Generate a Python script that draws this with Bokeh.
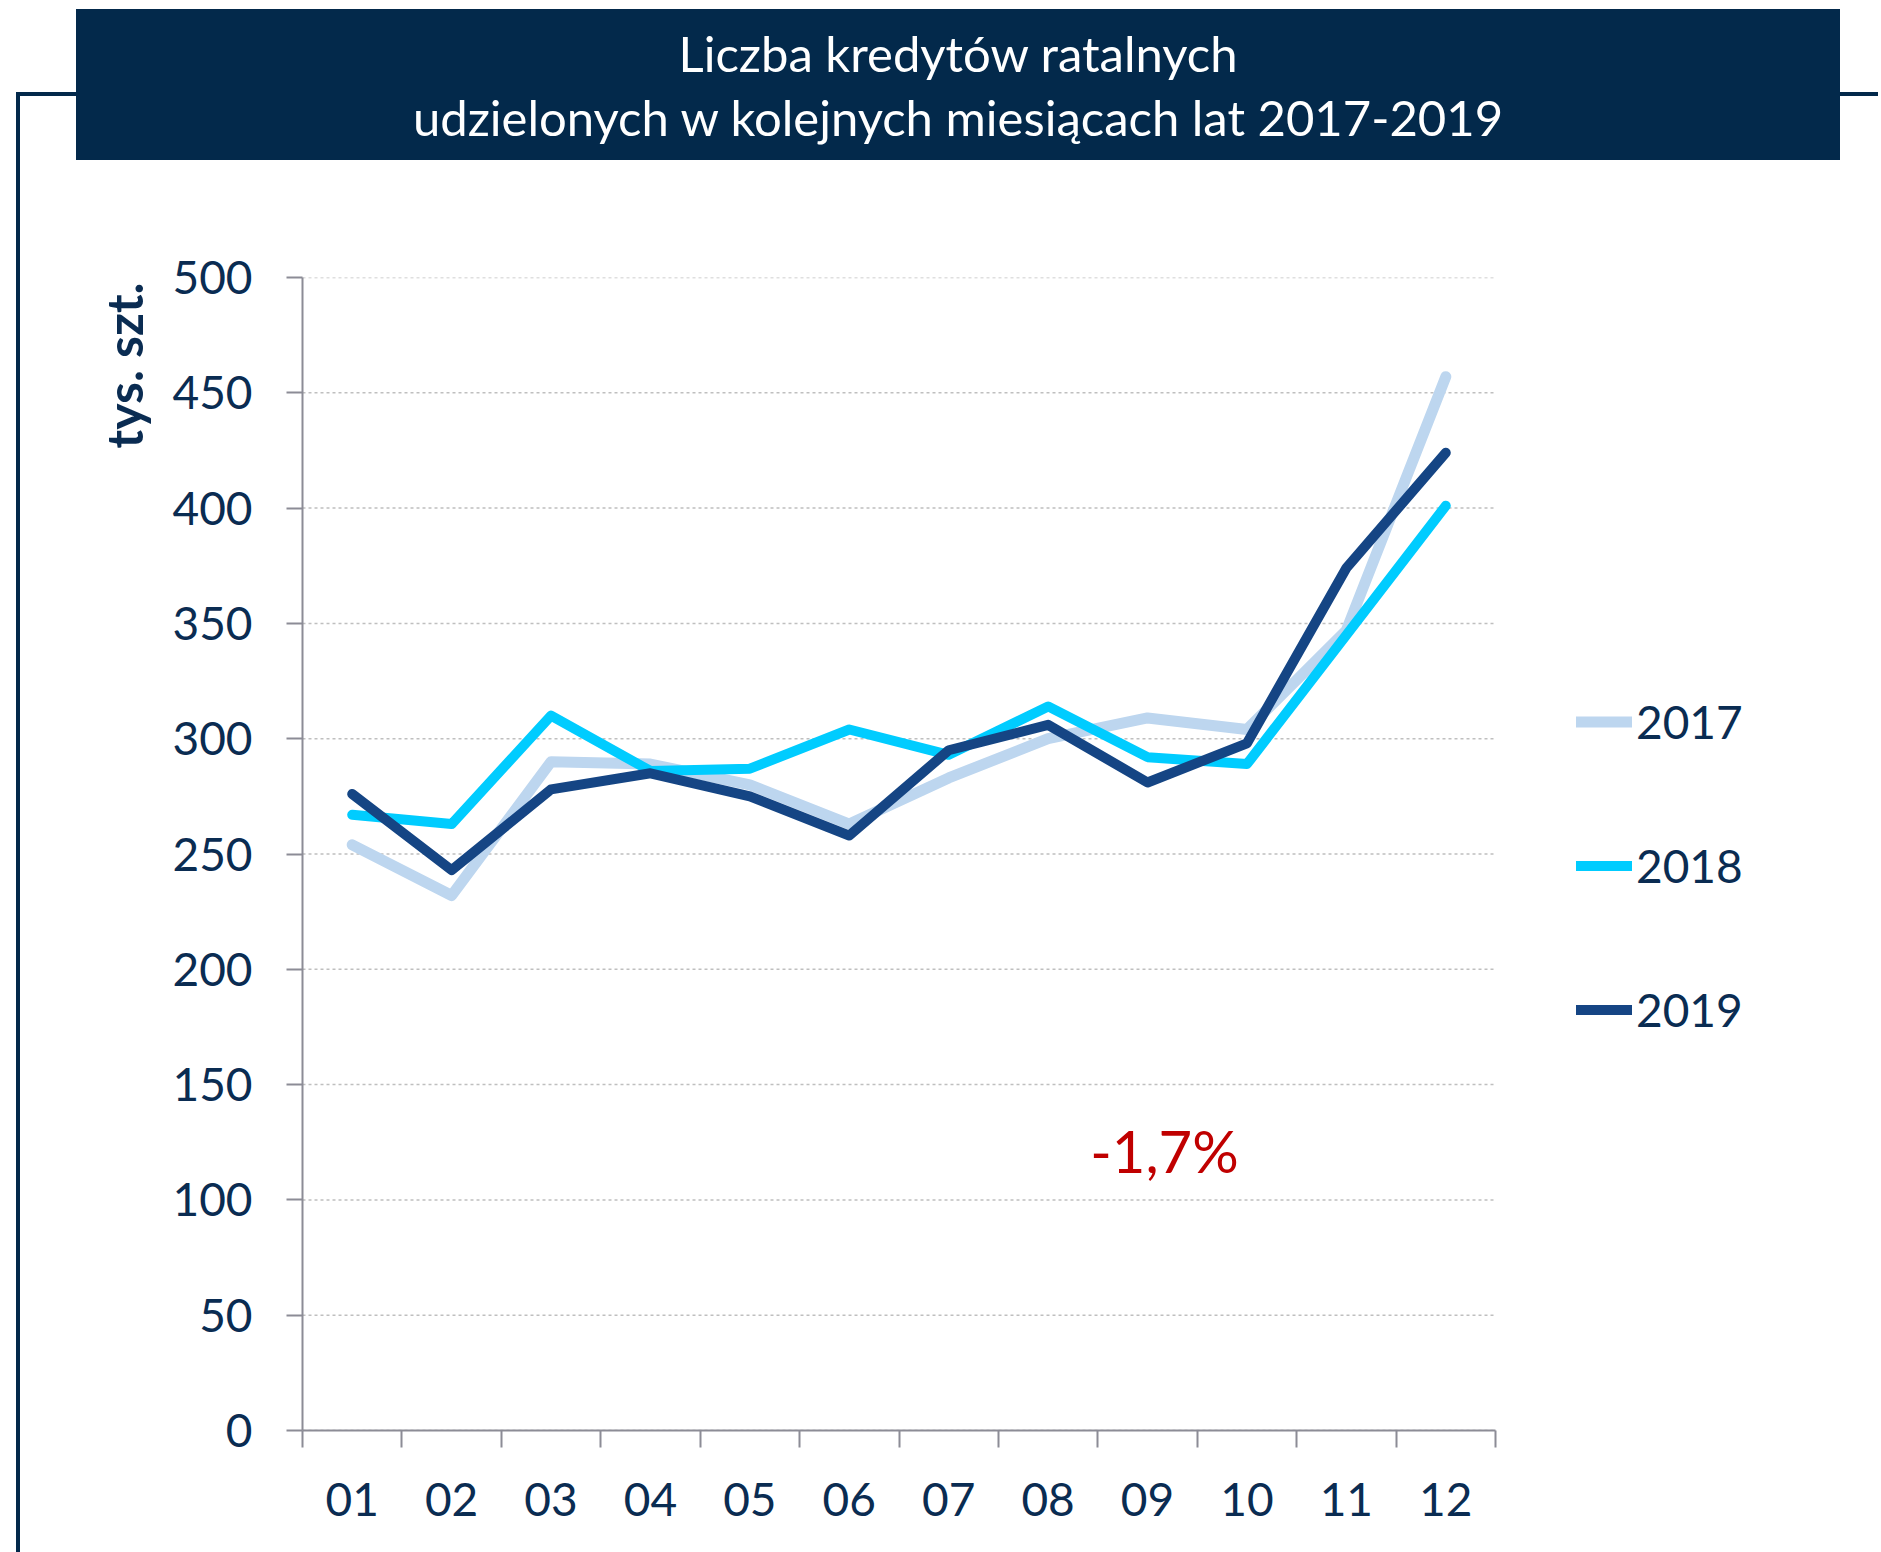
import math
from bokeh.plotting import figure
from bokeh.layouts import column
from bokeh.models import (Range1d, FixedTicker, Label, Legend, LegendItem, Title, Div)
from bokeh.embed import file_html
from bokeh.resources import INLINE

# ---- data ----
months = ["01", "02", "03", "04", "05", "06", "07", "08", "09", "10", "11", "12"]
v2017 = [254, 232, 290, 289, 280, 263, 283, 300, 309, 304, 347, 457]
v2018 = [267, 263, 310, 286, 287, 304, 293, 314, 292, 289, 345, 401]
v2019 = [276, 243, 278, 285, 275, 258, 295, 306, 281, 298, 374, 424]
series_names = ["2017", "2018", "2019"]
y_ticks = [0, 50, 100, 150, 200, 250, 300, 350, 400, 450, 500]
title_lines = ["Liczba kredytów ratalnych",
               "udzielonych w kolejnych miesiącach lat 2017-2019"]
unit_label = "tys. szt."
change_label = "-1,7%"
change_pos = (8.67, 121.5)

# ---- style ----
NAVY = "#03294B"
TXT = "#0A2C52"
AXIS = "#8C8C96"
COLORS = ["#BDD6EF", "#00CCFF", "#154584"]
WIDTHS = [11, 10, 10]
FONT = "Lato"
FIG_W, FIG_H = 1873, 1535
LEFT, TOP, AXIS_W, AXIS_H = 302, 277, 1193, 1153   # plot-area geometry in px

n = len(months)
xs = [i + 0.5 for i in range(n)]
x_end = n * (FIG_W - LEFT) / AXIS_W   # frame extends right to hold the legend

p = figure(width=FIG_W, height=FIG_H,
           x_range=Range1d(0, x_end), y_range=Range1d(0, 500),
           output_backend="svg", toolbar_location=None,
           min_border_left=LEFT, min_border_right=0,
           min_border_top=TOP, min_border_bottom=FIG_H - TOP - AXIS_H)
p.outline_line_color = None
p.background_fill_color = "white"
p.border_fill_color = "white"

# dotted horizontal grid, limited to the category span
p.segment(x0=[0] * len(y_ticks), y0=y_ticks, x1=[n] * len(y_ticks), y1=y_ticks,
          line_color="#BFBFBF", line_dash="3 3", line_width=1.5)
p.xgrid.grid_line_color = None
p.ygrid.grid_line_color = None

# lines
renderers = []
for vals, col, w in zip([v2017, v2018, v2019], COLORS, WIDTHS):
    r = p.line(xs, vals, line_color=col, line_width=w,
               line_join="round", line_cap="round")
    renderers.append(r)

# axes
xa = p.xaxis[0]
xa.bounds = (0, n)
xa.ticker = FixedTicker(ticks=xs, minor_ticks=list(range(n + 1)))
xa.major_label_overrides = {x: m for x, m in zip(xs, months)}
xa.major_tick_line_color = None
xa.minor_tick_in = 0
xa.minor_tick_out = 17
xa.minor_tick_line_color = AXIS
xa.minor_tick_line_width = 2
xa.axis_line_color = AXIS
xa.axis_line_width = 2
xa.major_label_text_font = FONT
xa.major_label_text_font_size = "46px"
xa.major_label_text_color = TXT
xa.major_label_standoff = 35

ya = p.yaxis[0]
ya.bounds = (0, 500)
ya.ticker = FixedTicker(ticks=y_ticks)
ya.major_tick_in = 0
ya.major_tick_out = 16
ya.major_tick_line_color = AXIS
ya.major_tick_line_width = 2
ya.minor_tick_line_color = None
ya.axis_line_color = AXIS
ya.axis_line_width = 2
ya.major_label_text_font = FONT
ya.major_label_text_font_size = "46px"
ya.major_label_text_color = TXT
ya.major_label_standoff = 34

# unit label (left side title, aligned to the top of the frame)
p.add_layout(Title(text=unit_label, align="right", offset=5, standoff=31,
                   text_color=TXT, text_font=FONT, text_font_size="50px",
                   text_font_style="bold"), "left")

# change annotation
p.add_layout(Label(x=change_pos[0], y=change_pos[1], text=change_label,
                   text_align="center", text_baseline="middle",
                   text_color="#C00000", text_font=FONT, text_font_size="58px"))

# legend (inside the widened frame, right of the category span)
legend = Legend(items=[LegendItem(label=s, renderers=[r])
                       for s, r in zip(series_names, renderers)],
                location=(1274, 393), orientation="vertical",
                glyph_width=56, glyph_height=45, label_height=45,
                label_standoff=4, spacing=89, padding=0, margin=0,
                border_line_color=None, background_fill_alpha=0,
                label_text_font=FONT, label_text_font_size="46px",
                label_text_color=TXT, label_text_baseline="middle")
p.add_layout(legend)

# decorative frame and title box (HTML overlay placed over the figure)
DY = -13
FRAME_TOP = 93 + DY
html = (
    '<div style="position:relative;width:0;height:0;">'
    f'<div style="position:absolute;left:16px;top:{FRAME_TOP - FIG_H}px;'
    f'width:{1878 - 16}px;height:{1552 - FRAME_TOP}px;border-left:4px solid {NAVY};'
    f'border-top:4px solid {NAVY};box-sizing:border-box;"></div>'
    f'<div style="position:absolute;left:76px;top:{10 + DY - FIG_H}px;width:1764px;'
    f'height:151px;background:{NAVY};color:white;font-family:Lato;'
    'font-size:49px;line-height:64px;text-align:center;box-sizing:border-box;'
    f'padding-top:12px;white-space:nowrap;">{title_lines[0]}<br>{title_lines[1]}</div>'
    '</div>'
)
deco = Div(text=html, width=FIG_W, height=1, margin=0)

layout = column(p, deco, spacing=0)
open("out.html", "w").write(file_html(layout, INLINE))
